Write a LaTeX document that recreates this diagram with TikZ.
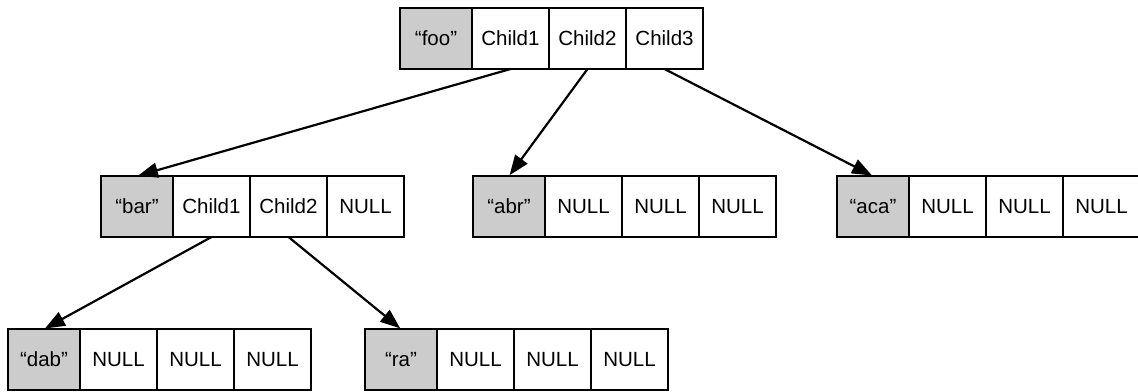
\documentclass[tikz,border=0pt]{standalone}
\usepackage{fontspec}
\setmainfont{Liberation Sans}
\usetikzlibrary{arrows.meta}
\definecolor{keygray}{HTML}{CCCCCC}

% one record: a grey key cell followed by three pointer cells
\newcommand{\drawrec}[7]{%
  \node[keycell, anchor=north west] (#1-0) at (#2,#3) {#4};
  \node[ptrcell, anchor=west] (#1-1) at (#1-0.east) {#5};
  \node[ptrcell, anchor=west] (#1-2) at (#1-1.east) {#6};
  \node[ptrcell, anchor=west] (#1-3) at (#1-2.east) {#7};
}

\begin{document}
\begin{tikzpicture}[x=1pt, y=-1pt,
  cell/.style={draw, line width=2.2pt, inner sep=0pt, outer sep=0pt,
    minimum height=61pt, font=\fontsize{20.5}{24}\selectfont},
  keycell/.style={cell, fill=keygray, minimum width=72pt},
  ptrcell/.style={cell, fill=white, minimum width=77pt},
  link/.style={line width=2.2pt, -{Triangle[length=20pt, width=15pt]}, shorten >=1pt}]
  \useasboundingbox (0,0) rectangle (1138,391);

  \drawrec{foo}{400}{8}{“foo”}{Child1}{Child2}{Child3}
  \drawrec{bar}{101}{176}{“bar”}{Child1}{Child2}{NULL}
  \drawrec{abr}{473}{176}{“abr”}{NULL}{NULL}{NULL}
  \drawrec{aca}{837}{176}{“aca”}{NULL}{NULL}{NULL}
  \drawrec{dab}{8}{329}{“dab”}{NULL}{NULL}{NULL}
  \drawrec{ra}{365}{329}{“ra”}{NULL}{NULL}{NULL}

  \draw[link] (foo-1.south) -- (bar-0.north);
  \draw[link] (foo-2.south) -- (abr-0.north);
  \draw[link] (foo-3.south) -- (aca-0.north);
  \draw[link] (bar-1.south) -- (dab-0.north);
  \draw[link] (bar-2.south) -- (ra-0.north);
\end{tikzpicture}
\end{document}
